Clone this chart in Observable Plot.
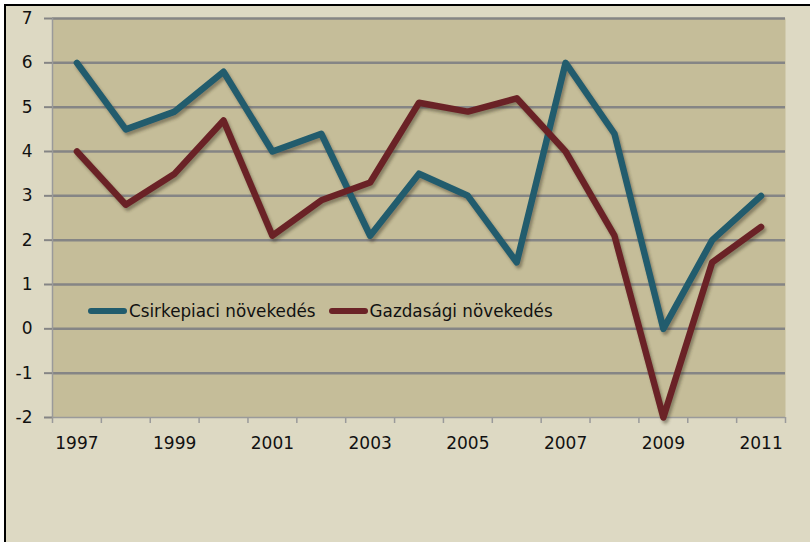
<!DOCTYPE html>
<html>
<head>
<meta charset="utf-8">
<script src="https://cdn.jsdelivr.net/npm/d3@7"></script>
<script src="https://cdn.jsdelivr.net/npm/@observablehq/plot@0.6"></script>
<style>
  html, body { margin: 0; padding: 0; background: #ffffff; }
  #wrap { position: relative; width: 810px; height: 542px; overflow: hidden; }
  #box { position: absolute; left: 4px; top: 4px; width: 806px; height: 538px;
         box-sizing: border-box; background: #ddd9c3;
         border-left: 2px solid #000; border-top: 2px solid #000; }
  #chart { position: absolute; left: 0; top: 0; }
  #legend { position: absolute; left: 88px; top: 301px; display: flex; align-items: center;
            font-family: "DejaVu Sans", sans-serif; font-size: 16.8px; color: #111; white-space: nowrap; }
  #legend .item { display: flex; align-items: center; margin-right: 13px; }
  #legend .sw { width: 39px; height: 6px; border-radius: 3px; margin-right: 2px; }
</style>
</head>
<body>
<div id="wrap">
  <div id="box"></div>
  <div id="chart"></div>
  <div id="legend"></div>
</div>
<script>
const years = [1997, 1998, 1999, 2000, 2001, 2002, 2003, 2004, 2005, 2006, 2007, 2008, 2009, 2010, 2011];
const chickenGrowth = [6.0, 4.5, 4.9, 5.8, 4.0, 4.4, 2.1, 3.5, 3.0, 1.5, 6.0, 4.4, 0.0, 2.0, 3.0];
const economicGrowth = [4.0, 2.8, 3.5, 4.7, 2.1, 2.9, 3.3, 5.1, 4.9, 5.2, 4.0, 2.1, -2.0, 1.5, 2.3];
const seriesNames = ["Csirkepiaci növekedés", "Gazdasági növekedés"];
const seriesColors = ["#215c6d", "#6b2327"];
const yTicks = [-2, -1, 0, 1, 2, 3, 4, 5, 6, 7];
const xLabelYears = [1997, 1999, 2001, 2003, 2005, 2007, 2009, 2011];

const data = [];
years.forEach((y, i) => data.push({year: y, value: chickenGrowth[i], series: seriesNames[0]}));
years.forEach((y, i) => data.push({year: y, value: economicGrowth[i], series: seriesNames[1]}));
const boundaries = years.map(y => y - 0.5).concat([years[years.length - 1] + 0.5]);

const svg = Plot.plot({
  width: 810,
  height: 542,
  marginLeft: 52,
  marginRight: 25,
  marginTop: 18,
  marginBottom: 125,
  x: {domain: [years[0] - 0.5, years[years.length - 1] + 0.5]},
  y: {domain: [-2, 7]},
  color: {domain: seriesNames, range: seriesColors},
  style: {background: "transparent", fontFamily: "DejaVu Sans, sans-serif", fontSize: "17px", color: "#111", overflow: "visible"},
  marks: [
    Plot.frame({fill: "#c5bd99", stroke: null}),
    Plot.gridY(yTicks.filter(d => d > -2), {stroke: "#858585", strokeOpacity: 1, strokeWidth: 2.5}),
    Plot.ruleY([-2], {stroke: "#9a9a9a", strokeWidth: 1.5}),
    Plot.ruleX([years[0] - 0.5], {stroke: "#9a9a9a", strokeWidth: 1.5}),
    Plot.axisY(yTicks, {tickSize: 8, tickPadding: 12, stroke: "#858585", strokeWidth: 2, fill: "#111", label: null, fontSize: 17, tickFormat: d => String(d)}),
    Plot.axisX(boundaries, {tickSize: 6, tickFormat: () => "", stroke: "#9a9a9a", strokeWidth: 1.5, label: null}),
    Plot.axisX(xLabelYears, {tickSize: 0, tickPadding: 19, tickFormat: d => String(d), fill: "#111", label: null, fontSize: 17}),
    Plot.lineY(data, {x: "year", y: "value", z: "series", stroke: "series", strokeWidth: 6.5, strokeLinejoin: "round", strokeLinecap: "round"})
  ]
});

svg.insertAdjacentHTML("afterbegin",
  '<defs><filter id="shadow" x="-10%" y="-10%" width="120%" height="120%">' +
  '<feDropShadow dx="2" dy="3" stdDeviation="1.8" flood-color="#3a3420" flood-opacity="0.45"/></filter></defs>');
svg.querySelectorAll('g[aria-label="line"]').forEach(g => g.setAttribute("filter", "url(#shadow)"));
document.getElementById("chart").appendChild(svg);

const legend = document.getElementById("legend");
seriesNames.forEach((name, i) => {
  const item = document.createElement("div");
  item.className = "item";
  const sw = document.createElement("div");
  sw.className = "sw";
  sw.style.background = seriesColors[i];
  const t = document.createElement("span");
  t.textContent = name;
  item.appendChild(sw);
  item.appendChild(t);
  legend.appendChild(item);
});
</script>
</body>
</html>
